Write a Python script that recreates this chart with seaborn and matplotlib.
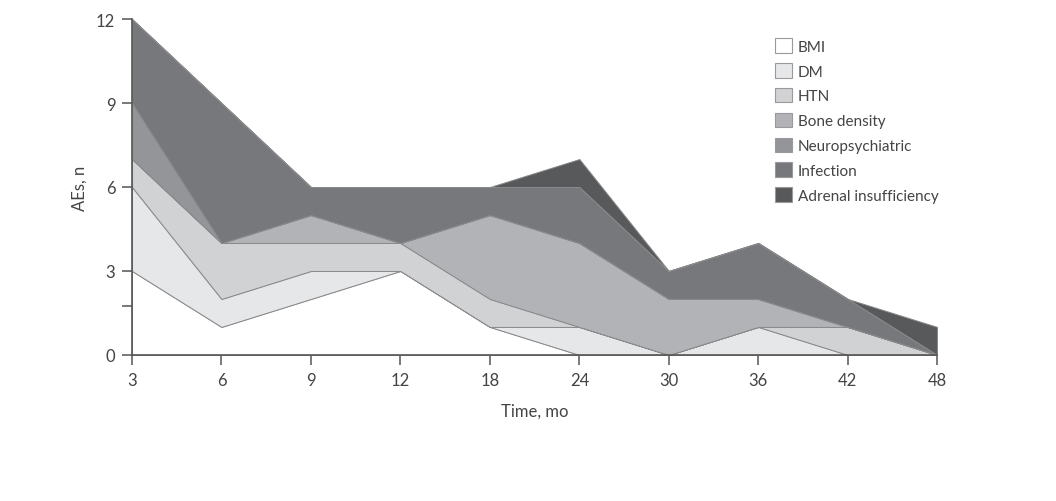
import numpy as np
import matplotlib
matplotlib.use("Agg")
import matplotlib.pyplot as plt
from matplotlib.patches import Patch
import seaborn as sns

# data (AE counts per category at each visit)
months = ["3", "6", "9", "12", "18", "24", "30", "36", "42", "48"]
bmi = [3, 1, 2, 3, 1, 0, 0, 0, 0, 0]
dm = [3, 1, 1, 0, 0, 1, 0, 1, 0, 0]
htn = [1, 2, 1, 1, 1, 0, 0, 0, 1, 0]
bone = [0, 0, 1, 0, 3, 3, 2, 1, 0, 0]
neuro = [2, 0, 0, 0, 0, 0, 0, 0, 0, 0]
infection = [3, 5, 1, 2, 1, 2, 1, 2, 1, 0]
adrenal = [0, 0, 0, 0, 0, 1, 0, 0, 0, 1]

labels = ["BMI", "DM", "HTN", "Bone density", "Neuropsychiatric",
          "Infection", "Adrenal insufficiency"]
colors = ["#ffffff", "#e6e7e8", "#d1d2d4", "#b2b3b6", "#939598",
          "#77787b", "#58595b"]

sns.set_theme(style="white")
plt.rcParams['font.family'] = ['Lato', 'DejaVu Sans']

fig = plt.figure(figsize=(10.56, 5.02), dpi=100)
ax = fig.add_axes([0.125, 0.291, 0.7625, 0.669])

x = np.arange(len(months))
ax.stackplot(x, bmi, dm, htn, bone, neuro, infection, adrenal,
             colors=colors, edgecolor="#8a8a8c", linewidth=0.7)

ax.set_xlim(0, len(months) - 1)
ax.set_ylim(0, 12)
ax.set_xticks(x)
ax.set_xticklabels(months)
ax.set_yticks([0, 3, 6, 9, 12])
ax.set_yticks([1.75], minor=True)

sns.despine(ax=ax)
for s in ["left", "bottom"]:
    ax.spines[s].set_color("#555555")
    ax.spines[s].set_linewidth(1.2)
ax.tick_params(axis="both", which="both", direction="out", length=7,
               width=1.1, color="#555555", labelsize=12,
               labelcolor="#444444", pad=5)
ax.tick_params(axis="y", which="both", left=True)
ax.tick_params(axis="x", bottom=True)

ax.set_xlabel("Time, mo", fontsize=12, color="#444444", labelpad=11)
ax.set_ylabel("AEs, n", fontsize=12, color="#444444", labelpad=6)

handles = [Patch(facecolor=c, edgecolor="#9a9a9c", linewidth=0.8) for c in colors]
ax.legend(handles, labels, loc="upper left", bbox_to_anchor=(0.789, 0.966),
          frameon=False, fontsize=11, handlelength=1.1, handleheight=1.1,
          handletextpad=0.4, labelspacing=0.61, borderpad=0,
          labelcolor="#444444")

fig.savefig("out.png", dpi=100)
